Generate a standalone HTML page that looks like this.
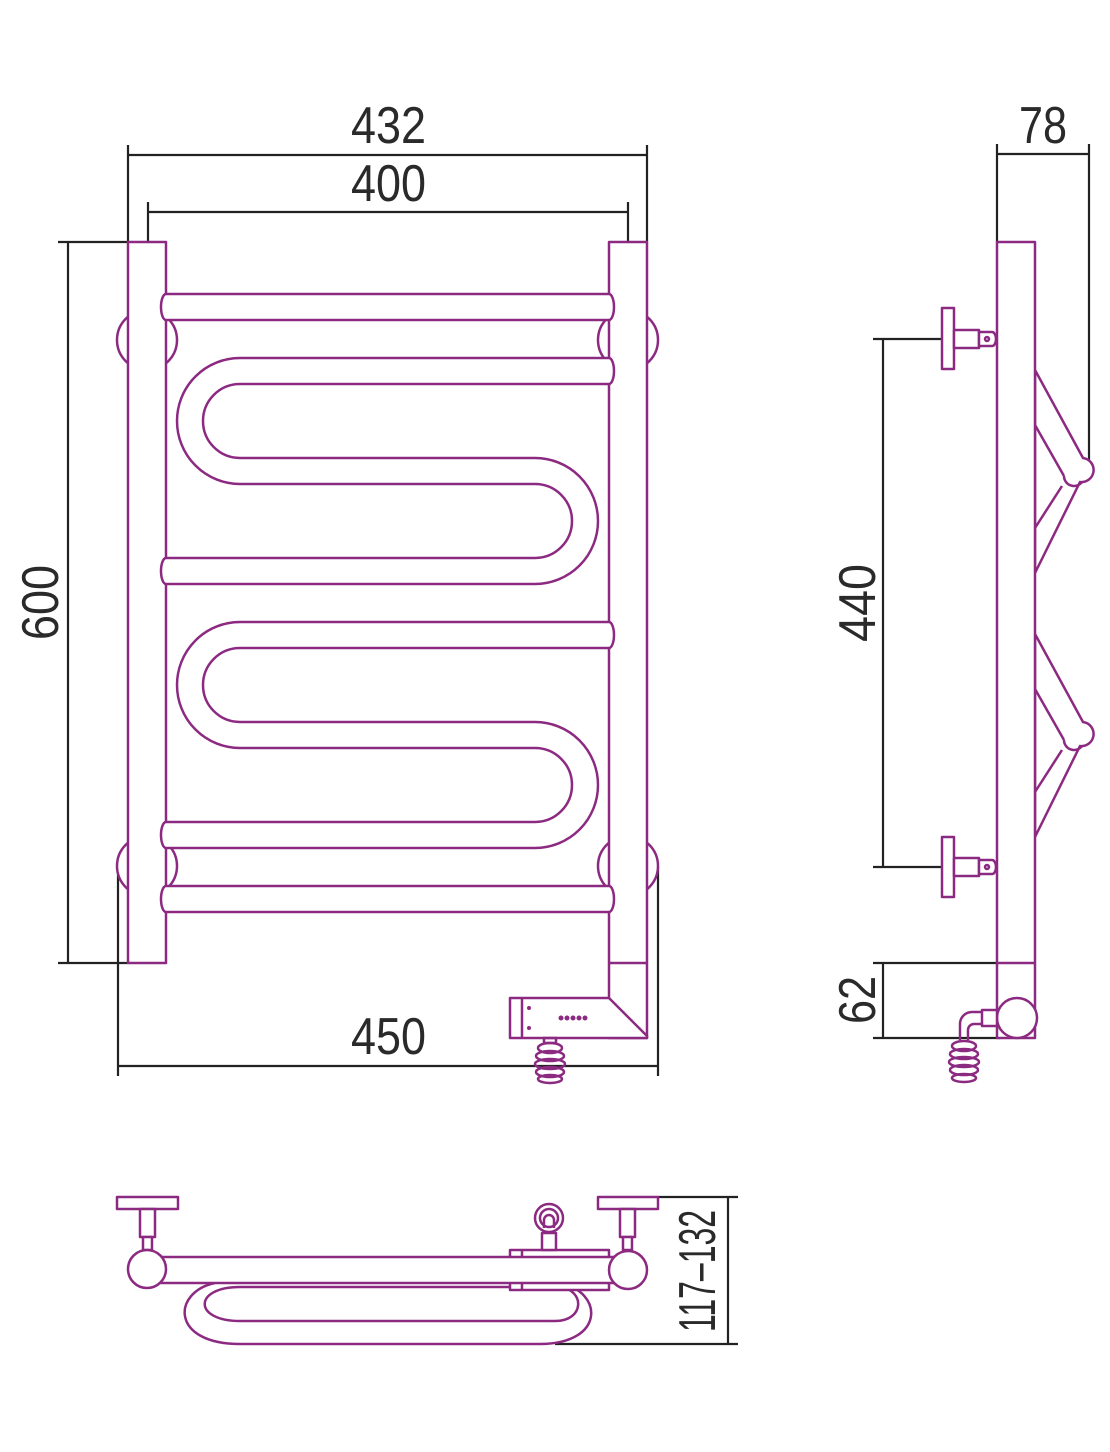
<!DOCTYPE html>
<html><head><meta charset="utf-8"><style>
html,body{margin:0;padding:0;background:#fff;}
svg{display:block;}
.p{fill:#fff;stroke:#8c2a82;stroke-width:2.5;stroke-linejoin:round;}
.pn{fill:none;stroke:#8c2a82;stroke-width:2.5;}
.k{fill:none;stroke:#222;stroke-width:2.2;}
.t{font-family:"Liberation Sans",sans-serif;font-size:52px;fill:#2a2a2a;font-weight:normal;}
</style></head><body>
<svg width="1110" height="1452" viewBox="0 0 1110 1452" xmlns="http://www.w3.org/2000/svg">
<g class="k">
<path d="M128,145 V242 M647,145 V242 M128,155 H647"/>
<path d="M148,202 V242 M628,202 V242 M148,212 H628"/>
<path d="M58,242 H128 M58,963 H128 M68,242 V963"/>
<path d="M118,866 V1076 M658,866 V1076 M118,1066 H658"/>
<path d="M997,144 V242 M1089,144 V470 M997,154 H1089"/>
<path d="M873,339 H942 M873,867 H942 M883,339 V867"/>
<path d="M873,963 H997 M873,1038 H1000 M883,963 V1038"/>
<path d="M658,1197 H738 M555,1344 H738 M728,1197 V1344"/>
</g>
<text class="t" x="351" y="143" textLength="75" lengthAdjust="spacingAndGlyphs">432</text>
<text class="t" x="351" y="201" textLength="75" lengthAdjust="spacingAndGlyphs">400</text>
<text class="t" x="351" y="1054" textLength="75" lengthAdjust="spacingAndGlyphs">450</text>
<text class="t" x="1019" y="143" textLength="48" lengthAdjust="spacingAndGlyphs">78</text>
<text class="t" transform="translate(58,640) rotate(-90)" x="0" y="0" textLength="75" lengthAdjust="spacingAndGlyphs">600</text>
<text class="t" transform="translate(875,642) rotate(-90)" x="0" y="0" textLength="78" lengthAdjust="spacingAndGlyphs">440</text>
<text class="t" transform="translate(875,1024) rotate(-90)" x="0" y="0" textLength="48" lengthAdjust="spacingAndGlyphs">62</text>
<text class="t" transform="translate(715,1332) rotate(-90)" x="0" y="0" textLength="122" lengthAdjust="spacingAndGlyphs">117–132</text>

<g>
<circle class="p" cx="147" cy="340" r="30"/>
<circle class="p" cx="628" cy="340" r="30"/>
<circle class="p" cx="147" cy="866" r="30"/>
<circle class="p" cx="628" cy="866" r="30"/>
<rect class="p" x="128" y="242" width="38" height="721"/>
<rect class="p" x="609" y="242" width="38" height="796"/>
<path class="pn" d="M609,963 H647"/>
<path class="p" d="M166,294 H609 A5,13 0 0 1 609,320 H166 A5,13 0 0 1 166,294 Z"/>
<path class="p" d="M166,886 H609 A5,13 0 0 1 609,912 H166 A5,13 0 0 1 166,886 Z"/>
<path class="p" d="M609,358 H240 A63,63 0 0 0 240,484 H535 A37,37 0 0 1 535,558 H166 A5,13 0 0 0 166,584 H535 A63,63 0 0 0 535,458 H240 A37,37 0 0 1 240,384 H609 A5,13 0 0 0 609,358 Z"/>
<path class="p" d="M609,622 H240 A63,63 0 0 0 240,748 H535 A37,37 0 0 1 535,822 H166 A5,13 0 0 0 166,848 H535 A63,63 0 0 0 535,722 H240 A37,37 0 0 1 240,648 H609 A5,13 0 0 0 609,622 Z"/>
<path class="p" d="M510,998 H609 L647,1036 V1038 H510 Z"/>
<path class="pn" d="M522,998 V1038"/>
<g fill="#8c2a82">
<circle cx="529" cy="1008" r="2"/><circle cx="529" cy="1028" r="2"/>
<circle cx="561" cy="1018" r="2.5"/><circle cx="567" cy="1018" r="2.5"/><circle cx="573" cy="1018" r="2.5"/><circle cx="579" cy="1018" r="2.5"/><circle cx="585" cy="1018" r="2.5"/>
</g>
<g class="pn" stroke-width="2">
<rect x="544" y="1038" width="12" height="5"/>
<ellipse cx="550" cy="1048" rx="12" ry="5"/>
<ellipse cx="550" cy="1056" rx="14" ry="5"/>
<ellipse cx="550" cy="1064" rx="15" ry="5"/>
<ellipse cx="550" cy="1072" rx="14" ry="5"/>
<ellipse cx="550" cy="1079" rx="12" ry="4"/>
</g>
</g>

<g>
<path class="p" d="M1035,370 L1083,458 A10,10 0 0 1 1080,482 L1035,573 Z"/>
<path class="pn" d="M1035,425 L1064,476 M1062,486 L1035,528 M1064,476 A10,10 0 0 0 1082,482"/>
<path class="p" d="M1035,634 L1083,722 A10,10 0 0 1 1080,746 L1035,837 Z"/>
<path class="pn" d="M1035,689 L1064,740 M1062,750 L1035,792 M1064,740 A10,10 0 0 0 1082,746"/>
<rect class="p" x="997" y="242" width="38" height="796"/>
<path class="pn" d="M997,963 H1035"/>
<circle class="p" cx="1017" cy="1018" r="20"/>
<g class="p">
<rect x="942" y="308" width="12" height="61"/>
<rect x="954" y="330" width="25" height="18"/>
<path d="M979,332 H992 A4,7 0 0 1 992,346 H979 Z"/>
<rect x="942" y="837" width="12" height="60"/>
<rect x="954" y="858" width="25" height="18"/>
<path d="M979,860 H992 A4,7 0 0 1 992,874 H979 Z"/>
</g>
<circle cx="987" cy="339" r="2" class="pn" stroke-width="1.5"/>
<circle cx="987" cy="867" r="2" class="pn" stroke-width="1.5"/>
<path class="p" d="M997,1010 H982 V1026 H997 Z"/>
<path class="pn" d="M982,1012 H972 A12,12 0 0 0 960,1024 V1040 M982,1024 H974 A6,6 0 0 0 968,1030 V1040"/>
<g class="pn" stroke-width="2">
<ellipse cx="964" cy="1046" rx="12" ry="5"/>
<ellipse cx="964" cy="1054" rx="14" ry="5"/>
<ellipse cx="964" cy="1062" rx="15" ry="5"/>
<ellipse cx="964" cy="1070" rx="14" ry="5"/>
<ellipse cx="964" cy="1078" rx="12" ry="4"/>
</g>
</g>

<g>
<path class="p" d="M215,1283 C172,1292 170,1344 240,1344 H540 C605,1344 604,1292 560,1283"/>
<path class="p" d="M240,1287 H560 C585,1290 585,1321 555,1321 H240 C193,1321 193,1287 240,1287 Z"/>
<rect class="p" x="510" y="1250" width="99" height="40"/>
<path class="pn" d="M522,1250 V1290"/>
<rect class="p" x="147" y="1257" width="481" height="26"/>
<rect class="p" x="117" y="1197" width="61" height="12"/>
<rect class="p" x="140" y="1209" width="15" height="28"/>
<rect class="p" x="143" y="1237" width="9" height="13"/>
<circle class="p" cx="147" cy="1269" r="19"/>
<rect class="p" x="598" y="1197" width="60" height="12"/>
<rect class="p" x="620" y="1209" width="15" height="28"/>
<rect class="p" x="623" y="1237" width="9" height="13"/>
<circle class="p" cx="628" cy="1270" r="19"/>
<rect class="p" x="542" y="1233" width="14" height="17"/>
<circle class="p" cx="549" cy="1218" r="14"/>
<path class="pn" d="M544,1228 V1220 A5,5 0 0 1 554,1220 V1228"/>
<ellipse class="pn" cx="549" cy="1218" rx="9" ry="9"/>
</g>
</svg>
</body></html>
